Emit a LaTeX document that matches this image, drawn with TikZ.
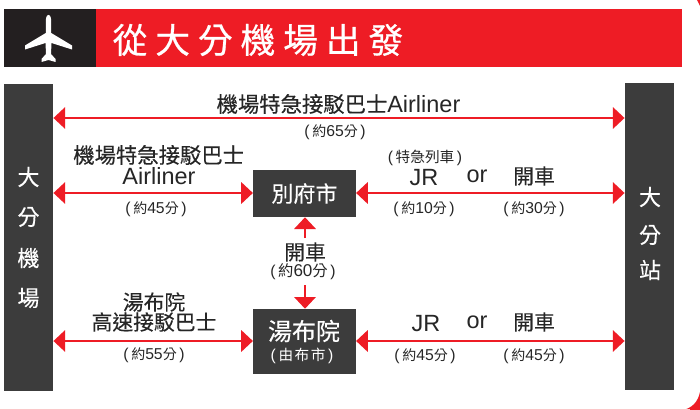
\documentclass[tikz,border=0pt]{standalone}
\usepackage{fontspec}
\setmainfont{Noto Sans CJK TC}
\newfontfamily\lat{Liberation Sans}
\newfontfamily\ttl[FakeBold=0.7]{Noto Sans CJK TC}
\newfontfamily\semi[FakeBold=0.25]{Noto Sans CJK TC}
\usetikzlibrary{arrows.meta}
\definecolor{rd}{HTML}{EE1C25}
\definecolor{dk}{HTML}{3C3C3C}
\definecolor{blk}{HTML}{231F20}
\newcommand{\bgl}[1]{{\lat\fontsize{17.6}{19}\selectfont #1}}
\newcommand{\sml}[1]{{\lat\fontsize{11.8}{13}\selectfont #1}}
\newcommand{\lpr}{{\lat\fontsize{11.8}{13}\selectfont(\,}}
\newcommand{\rpr}{{\lat\fontsize{11.8}{13}\selectfont\,)}}
\tikzset{
  px/.style={x=0.75pt,y=-0.75pt},
  box/.style={fill=dk,text=white,inner sep=0pt,anchor=center},
  coltext/.style={text=white,inner sep=0pt,font=\semi\fontsize{16.5}{18}\selectfont},
  lbl/.style={text=black!85,inner sep=0pt,anchor=center,align=center},
  big/.style={lbl,font=\semi\fontsize{15.6}{17}\selectfont},
  wide/.style={lbl,font=\semi\fontsize{16}{17}\selectfont},
  small/.style={lbl,font=\fontsize{10.5}{12}\selectfont},
  conn/.style={draw=rd,line width=1.9pt,{Triangle[length=8.8pt,width=16pt]}-{Triangle[length=8.8pt,width=16pt]}},
  half/.style={draw=rd,line width=1.9pt,-{Triangle[length=8.8pt,width=16pt]}},
}
\begin{document}
\begin{tikzpicture}[px]
\useasboundingbox (0,0) rectangle (700,410);
\fill[white] (0,0) rectangle (700,410);
% frame remnants
\fill[rd] (700,392) .. controls (698,402) and (692,408) .. (683,410) -- (700,410) -- cycle;
\fill[rd] (697,0) -- (700,0) -- (700,6) -- cycle;
\fill[rd!25] (0,408.5) rectangle (690,410);
% header
\fill[blk] (4,9) rectangle (96,67);
\fill[rd] (96,9) rectangle (682,67);
% plane
\fill[white] (48.5,15) .. controls (50.5,15) and (51.2,18) .. (51.2,22) -- (51.2,33) -- (72,45.5) -- (72,49.5) -- (51.5,43) -- (51,54) -- (55.5,59) -- (55.5,62) -- (48.5,60) -- (41.5,62) -- (41.5,59) -- (46,54) -- (45.5,43) -- (25,49.5) -- (25,45.5) -- (45.8,33) -- (45.8,22) .. controls (45.8,18) and (46.5,15) .. (48.5,15) -- cycle;
\node[inner sep=0pt,text=white,font=\ttl\fontsize{26}{28}\selectfont] (title) at (258,40) {從\hspace{0.23em}大\hspace{0.23em}分\hspace{0.23em}機\hspace{0.23em}場\hspace{0.23em}出\hspace{0.23em}發};
% columns
\node[box,minimum width=37pt,minimum height=230pt] (air) at (28.5,237.5) {};
\node[box,minimum width=37pt,minimum height=230pt] (sta) at (649.5,236.5) {};
\node[coltext] at (28.5,177) {大};
\node[coltext] at (28.5,217) {分};
\node[coltext] at (28.5,258) {機};
\node[coltext] at (28.5,298) {場};
\node[coltext] at (650,197) {大};
\node[coltext] at (650,235) {分};
\node[coltext] at (650,270) {站};
% city boxes
\node[box,minimum width=77pt,minimum height=35.25pt,font=\semi\fontsize{16.5}{18}\selectfont] (bep) at (304.5,193.5) {別府市};
\node[box,minimum width=77pt,minimum height=48.75pt] (yuf) at (304.5,341.5) {};
\node[text=white,inner sep=0pt,font=\semi\fontsize{18}{20}\selectfont] at (304,331) {湯布院};
\node[text=white,inner sep=0pt,font=\fontsize{11}{12}\selectfont] at (302,356) {\lpr 由\hspace{0.1em}布\hspace{0.1em}市\rpr};
% connectors
\coordinate (a1) at (air.east|-0,118); \coordinate (s1) at (sta.west|-0,118);
\coordinate (a2) at (air.east|-0,193); \coordinate (s2) at (sta.west|-0,193);
\coordinate (a3) at (air.east|-0,341); \coordinate (s3) at (sta.west|-0,341);
\draw[conn] (a1) -- (s1);
\draw[conn] (a2) -- (bep.west|-a2);
\draw[conn] (bep.east|-s2) -- (s2);
\draw[conn] (a3) -- (yuf.west|-a3);
\draw[conn] (yuf.east|-s3) -- (s3);
\coordinate (u) at (305,238); \coordinate (d) at (305,285);
\draw[half] (u) -- (bep.south-|u);
\draw[half] (d) -- (yuf.north-|d);
% labels
\node[wide] at (338.5,104) {機場特急接駁巴士\bgl{Airliner}};
\node[small] at (335,132) {\lpr 約\sml{65}分\rpr};
\node[wide] at (158.7,155) {機場特急接駁巴士};
\node[big] at (159,176) {\bgl{Airliner}};
\node[small] at (156,209) {\lpr 約\sml{45}分\rpr};
\node[small,font=\fontsize{11}{12}\selectfont] at (425,158) {\lpr 特急列車\rpr};
\node[big] at (424,178) {\bgl{JR}};
\node[big] at (477,176) {\bgl{or}};
\node[big] at (534,176) {開車};
\node[small] at (424,209) {\lpr 約\sml{10}分\rpr};
\node[small] at (534,209) {\lpr 約\sml{30}分\rpr};
\node[big] at (305,252) {開車};
\node[small,font=\fontsize{11.5}{13}\selectfont] at (303,272) {\lpr 約{\lat\fontsize{12.8}{14}\selectfont 60}分\rpr};
\node[big] at (154,302) {湯布院};
\node[big] at (154,322) {高速接駁巴士};
\node[small] at (154,355) {\lpr 約\sml{55}分\rpr};
\node[big] at (426,324) {\bgl{JR}};
\node[big] at (477,322) {\bgl{or}};
\node[big] at (534,322) {開車};
\node[small] at (425,356) {\lpr 約\sml{45}分\rpr};
\node[small] at (534,356) {\lpr 約\sml{45}分\rpr};
\end{tikzpicture}
\end{document}
